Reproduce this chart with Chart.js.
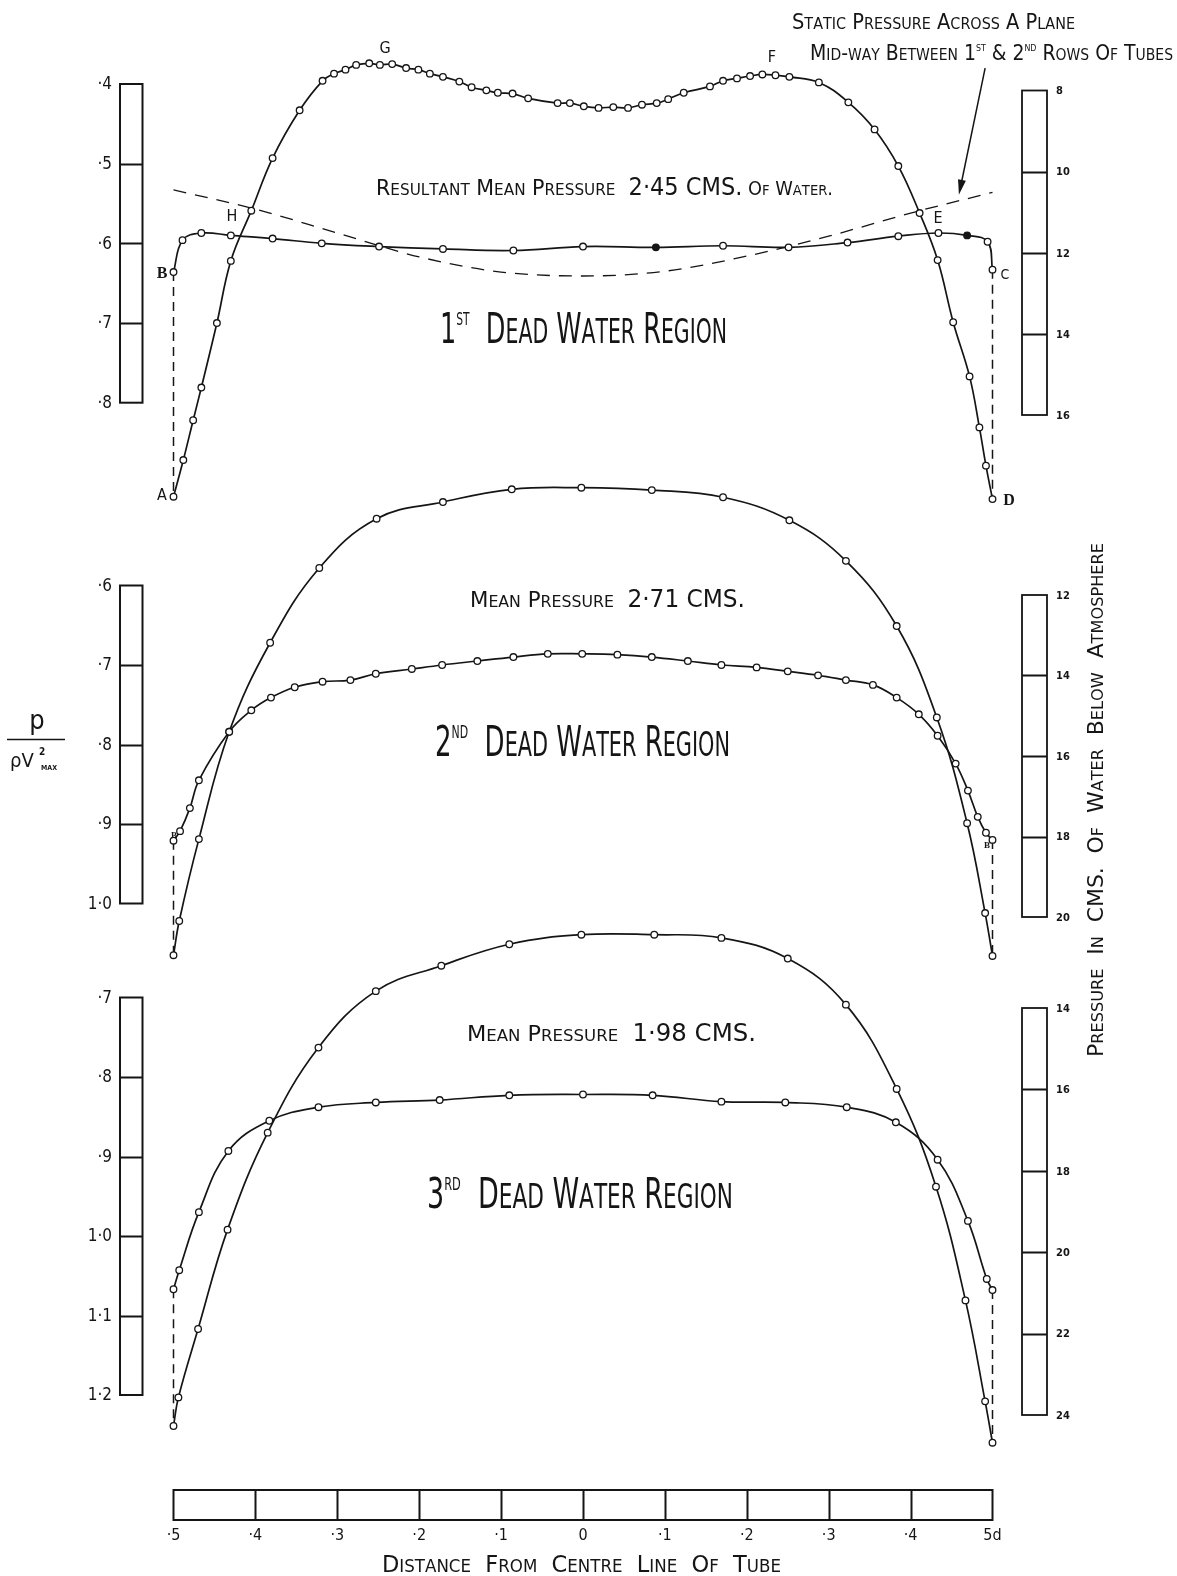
<!DOCTYPE html>
<html>
<head>
<meta charset="utf-8">
<title>Dead Water Regions – Pressure Distribution</title>
<script src="https://cdn.jsdelivr.net/npm/chart.js@4.4.1/dist/chart.umd.min.js"></script>
<style>
  html, body { margin: 0; padding: 0; background: #fff; overflow: hidden; }
  canvas { display: block; }
</style>
</head>
<body>
<canvas id="chart" width="1177" height="1576"></canvas>
<script>
// ---------------------------------------------------------------
// Data: distance from centre line of tube (fraction of d) and
// p / (rho V^2 max) for each traverse.
// ---------------------------------------------------------------

// 1st dead water region – upper traverse (A … G … F … D)
const p1UpperX = [-0.5,-0.488,-0.476,-0.466,-0.447,-0.430,-0.405,-0.379,-0.346,-0.318,-0.304,-0.290,-0.277,-0.261,-0.248,-0.233,-0.216,-0.201,-0.187,-0.171,-0.151,-0.136,-0.118,-0.104,-0.086,-0.067,-0.031,-0.016,0.001,0.019,0.037,0.055,0.072,0.090,0.104,0.123,0.155,0.171,0.188,0.204,0.219,0.235,0.252,0.288,0.324,0.356,0.385,0.411,0.433,0.452,0.472,0.484,0.492,0.5];
const p1UpperY = [0.918,0.872,0.822,0.781,0.700,0.622,0.559,0.493,0.433,0.396,0.387,0.382,0.376,0.374,0.376,0.375,0.380,0.382,0.387,0.391,0.397,0.404,0.408,0.411,0.412,0.418,0.424,0.424,0.428,0.430,0.429,0.430,0.426,0.424,0.419,0.411,0.403,0.396,0.393,0.390,0.388,0.389,0.391,0.398,0.423,0.457,0.503,0.562,0.621,0.699,0.767,0.831,0.879,0.921];

// 1st dead water region – lower traverse (B … H … E … C)
const p1LowerX = [-0.5,-0.489,-0.466,-0.430,-0.379,-0.319,-0.249,-0.171,-0.085,0.000,0.089,0.171,0.251,0.323,0.385,0.434,0.469,0.494,0.5];
const p1LowerY = [0.636,0.596,0.587,0.590,0.594,0.600,0.604,0.607,0.609,0.604,0.605,0.603,0.605,0.599,0.591,0.587,0.590,0.598,0.633];
const p1LowerSolid = [10, 16]; // readings marked with a solid dot

// static pressure across the plane mid-way between 1st & 2nd rows
const p1StaticX = [-0.5,-0.4,-0.3,-0.2,-0.1,0,0.1,0.2,0.3,0.4,0.5];
const p1StaticY = [0.533,0.557,0.587,0.617,0.636,0.641,0.635,0.616,0.591,0.562,0.536];

// 2nd dead water region
const p2UpperX = [-0.5,-0.493,-0.469,-0.432,-0.382,-0.322,-0.252,-0.171,-0.087,-0.002,0.084,0.171,0.252,0.321,0.383,0.432,0.469,0.491,0.5];
const p2UpperY = [1.065,1.022,0.919,0.784,0.672,0.578,0.516,0.495,0.479,0.477,0.480,0.489,0.518,0.569,0.651,0.766,0.899,1.012,1.066];
const p2LowerX = [-0.5,-0.492,-0.480,-0.469,-0.432,-0.405,-0.381,-0.352,-0.318,-0.284,-0.253,-0.209,-0.172,-0.129,-0.085,-0.043,-0.001,0.042,0.084,0.128,0.169,0.212,0.250,0.287,0.321,0.354,0.383,0.410,0.433,0.455,0.470,0.482,0.492,0.5];
const p2LowerY = [0.921,0.909,0.880,0.845,0.784,0.757,0.741,0.728,0.721,0.719,0.711,0.705,0.700,0.695,0.690,0.686,0.686,0.687,0.690,0.695,0.700,0.703,0.708,0.713,0.719,0.725,0.741,0.762,0.789,0.824,0.858,0.891,0.911,0.920];

// 3rd dead water region
const p3UpperX = [-0.5,-0.494,-0.470,-0.434,-0.385,-0.323,-0.253,-0.173,-0.090,-0.002,0.087,0.169,0.250,0.321,0.383,0.431,0.467,0.491,0.5];
const p3UpperY = [1.239,1.203,1.117,0.992,0.870,0.763,0.692,0.660,0.633,0.621,0.621,0.625,0.651,0.709,0.815,0.938,1.081,1.208,1.260];
const p3LowerX = [-0.5,-0.493,-0.469,-0.433,-0.383,-0.323,-0.253,-0.175,-0.090,0,0.085,0.169,0.247,0.322,0.382,0.433,0.470,0.493,0.5];
const p3LowerY = [1.067,1.043,0.970,0.893,0.855,0.838,0.832,0.829,0.823,0.822,0.823,0.831,0.832,0.838,0.857,0.904,0.981,1.054,1.068];

// Scale ticks and their printed labels
const ratioTicks1 = [0.4,0.5,0.6,0.7,0.8];
const ratioLabels1 = ['·4','·5','·6','·7','·8'];
const ratioTicks2 = [0.6,0.7,0.8,0.9,1.0];
const ratioLabels2 = ['·6','·7','·8','·9','1·0'];
const ratioTicks3 = [0.7,0.8,0.9,1.0,1.1,1.2];
const ratioLabels3 = ['·7','·8','·9','1·0','1·1','1·2'];
const cmsTicks1 = [8,10,12,14,16];
const cmsTicks2 = [12,14,16,18,20];
const cmsTicks3 = [14,16,18,20,22,24];
const distTicks = [-0.5,-0.4,-0.3,-0.2,-0.1,0,0.1,0.2,0.3,0.4,0.5];
const distLabels = ['·5','·4','·3','·2','·1','0','·1','·2','·3','·4','5d'];

// ---------------------------------------------------------------
// Page geometry
// ---------------------------------------------------------------
const W = 1177, H = 1576;
const INK = '#151515';
const FONT = '"DejaVu Sans Condensed", "Liberation Sans Narrow", "DejaVu Sans", sans-serif';
const SERIF = '"Liberation Serif", "DejaVu Serif", serif';

// Linear range so that value v0 lands on pixel p0 and v1 on p1
function rangeThrough(v0, p0, v1, p1, size) {
  const k = (p1 - p0) / (v1 - v0);
  const min = v0 - p0 / k;
  return { min, max: min + size / k };
}

function hiddenAxis(axis, position, range, reverse) {
  return {
    type: 'linear', axis, position, display: false, reverse: !!reverse,
    min: range.min, max: range.max, bounds: 'data',
    grid: { display: false }, ticks: { display: false }
  };
}

const scales = {
  x:   hiddenAxis('x', 'bottom', rangeThrough(-0.5, 173.5, 0.5, 992.5, W), false),
  y1:  hiddenAxis('y', 'left',  rangeThrough(0.4, 84, 0.8, 402.7, H), true),
  y2:  hiddenAxis('y', 'left',  rangeThrough(0.6, 585.5, 1.0, 903.5, H), true),
  y3:  hiddenAxis('y', 'left',  rangeThrough(0.7, 997.5, 1.2, 1395, H), true),
  c1:  hiddenAxis('y', 'right', rangeThrough(8, 90.5, 16, 415, H), true),
  c2:  hiddenAxis('y', 'right', rangeThrough(12, 595, 20, 917, H), true),
  c3:  hiddenAxis('y', 'right', rangeThrough(14, 1008, 24, 1415, H), true)
};

// ---------------------------------------------------------------
// Datasets
// ---------------------------------------------------------------
function pts(xs, ys) { return xs.map((x, i) => ({ x, y: ys[i] })); }

function traverse(xs, ys, yAxisID, extra) {
  return Object.assign({
    data: pts(xs, ys), xAxisID: 'x', yAxisID,
    borderColor: INK, borderWidth: 1.7,
    pointRadius: 3.3, pointHoverRadius: 3.3, pointBorderWidth: 1.3,
    pointBackgroundColor: '#fff', pointBorderColor: INK,
    tension: 0.4, fill: false, clip: false
  }, extra || {});
}

// dashed drop joining the end readings of the two traverses at one wall
function wallDrop(ax, ay, bx, by, idxA, idxB, yAxisID) {
  return {
    data: [{ x: ax[idxA], y: ay[idxA] }, { x: bx[idxB], y: by[idxB] }],
    xAxisID: 'x', yAxisID, borderColor: INK, borderWidth: 1.5,
    borderDash: [9, 6], pointRadius: 0, tension: 0, fill: false, clip: false
  };
}

const last = a => a.length - 1;

const datasets = [
  traverse(p1UpperX, p1UpperY, 'y1'),
  traverse(p1LowerX, p1LowerY, 'y1', {
    pointBackgroundColor: p1LowerX.map((_, i) => p1LowerSolid.includes(i) ? INK : '#fff')
  }),
  {
    data: pts(p1StaticX, p1StaticY), xAxisID: 'x', yAxisID: 'y1',
    borderColor: INK, borderWidth: 1.3, borderDash: [13, 9], pointRadius: 0,
    cubicInterpolationMode: 'monotone', fill: false, clip: false
  },
  wallDrop(p1LowerX, p1LowerY, p1UpperX, p1UpperY, 0, 0, 'y1'),
  wallDrop(p1LowerX, p1LowerY, p1UpperX, p1UpperY, last(p1LowerX), last(p1UpperX), 'y1'),

  traverse(p2UpperX, p2UpperY, 'y2'),
  traverse(p2LowerX, p2LowerY, 'y2'),
  wallDrop(p2LowerX, p2LowerY, p2UpperX, p2UpperY, 0, 0, 'y2'),
  wallDrop(p2LowerX, p2LowerY, p2UpperX, p2UpperY, last(p2LowerX), last(p2UpperX), 'y2'),

  traverse(p3UpperX, p3UpperY, 'y3'),
  traverse(p3LowerX, p3LowerY, 'y3'),
  wallDrop(p3LowerX, p3LowerY, p3UpperX, p3UpperY, 0, 0, 'y3'),
  wallDrop(p3LowerX, p3LowerY, p3UpperX, p3UpperY, last(p3LowerX), last(p3UpperX), 'y3')
];

// ---------------------------------------------------------------
// Lettering helpers (small capitals, superscripts, fitted widths)
// ---------------------------------------------------------------
function layoutGlyphs(ctx, segs) {
  const glyphs = [];
  let w = 0;
  for (const s of segs) {
    const ratio = s.scRatio || 0.74;
    for (const ch of s.t) {
      let c = ch, sz = s.size, dy = 0;
      if (s.sup) { sz = s.size * 0.42; dy = -s.size * 0.43; }
      else if (s.sc && ch !== ch.toUpperCase()) { c = ch.toUpperCase(); sz = s.size * ratio; }
      const font = `${s.weight || 400} ${sz}px ${s.family || FONT}`;
      ctx.font = font;
      glyphs.push({ c, font, dy, x: w });
      w += ctx.measureText(c).width + (s.track || 0);
    }
  }
  return { glyphs, width: w };
}

function drawRich(ctx, segs, x, y, o) {
  o = o || {};
  const run = layoutGlyphs(ctx, segs);
  const sx = o.width ? o.width / run.width : 1;
  const total = run.width * sx;
  const start = o.align === 'center' ? -total / 2 : o.align === 'right' ? -total : 0;
  ctx.save();
  ctx.translate(x, y);
  if (o.rotate) ctx.rotate(o.rotate);
  ctx.fillStyle = INK;
  ctx.textAlign = 'left';
  ctx.textBaseline = 'alphabetic';
  for (const g of run.glyphs) {
    ctx.save();
    ctx.translate(start + g.x * sx, g.dy);
    ctx.scale(sx, 1);
    ctx.font = g.font;
    ctx.fillText(g.c, 0, 0);
    ctx.restore();
  }
  ctx.restore();
}

// vertical box scale with divisions at every tick
function verticalBox(ctx, scale, ticks, labels, x0, x1, labelX, labelAlign, font, lw) {
  const top = scale.getPixelForValue(ticks[0]);
  const bot = scale.getPixelForValue(ticks[ticks.length - 1]);
  ctx.save();
  ctx.strokeStyle = INK;
  ctx.lineWidth = lw;
  ctx.strokeRect(x0, top, x1 - x0, bot - top);
  ctx.beginPath();
  for (let i = 1; i < ticks.length - 1; i++) {
    const y = Math.round(scale.getPixelForValue(ticks[i])) + 0.5;
    ctx.moveTo(x0, y); ctx.lineTo(x1, y);
  }
  ctx.stroke();
  ctx.fillStyle = INK;
  ctx.font = font;
  ctx.textAlign = labelAlign;
  ctx.textBaseline = 'middle';
  ticks.forEach((t, i) => ctx.fillText(labels[i], labelX, scale.getPixelForValue(t) + 1));
  ctx.restore();
}

// ---------------------------------------------------------------
// Plugin drawing scales, lettering and the pointer arrow
// ---------------------------------------------------------------
const sheet = {
  id: 'sheet',
  beforeDraw(chart) {
    const c = chart.ctx;
    c.save(); c.fillStyle = '#fff'; c.fillRect(0, 0, chart.width, chart.height); c.restore();
  },
  afterDatasetsDraw(chart) {
    const ctx = chart.ctx, s = chart.scales;

    // p / rho V^2 scales on the left
    const lf = `400 17px ${FONT}`;
    verticalBox(ctx, s.y1, ratioTicks1, ratioLabels1, 120, 142.5, 112, 'right', lf, 2);
    verticalBox(ctx, s.y2, ratioTicks2, ratioLabels2, 120, 142.5, 112, 'right', lf, 2);
    verticalBox(ctx, s.y3, ratioTicks3, ratioLabels3, 120, 142.5, 112, 'right', lf, 2);

    // centimetres of water scales on the right
    const rf = `700 11px ${FONT}`;
    const str = v => v.map(String);
    verticalBox(ctx, s.c1, cmsTicks1, str(cmsTicks1), 1022, 1047, 1056, 'left', rf, 1.8);
    verticalBox(ctx, s.c2, cmsTicks2, str(cmsTicks2), 1022, 1047, 1056, 'left', rf, 1.8);
    verticalBox(ctx, s.c3, cmsTicks3, str(cmsTicks3), 1022, 1047, 1056, 'left', rf, 1.8);

    // distance scale along the bottom
    const bx0 = s.x.getPixelForValue(distTicks[0]);
    const bx1 = s.x.getPixelForValue(distTicks[distTicks.length - 1]);
    ctx.save();
    ctx.strokeStyle = INK; ctx.lineWidth = 2;
    ctx.strokeRect(bx0, 1490, bx1 - bx0, 30);
    ctx.beginPath();
    for (let i = 1; i < distTicks.length - 1; i++) {
      const x = Math.round(s.x.getPixelForValue(distTicks[i])) + 0.5;
      ctx.moveTo(x, 1490); ctx.lineTo(x, 1520);
    }
    ctx.stroke();
    ctx.fillStyle = INK; ctx.font = `400 16px ${FONT}`;
    ctx.textAlign = 'center'; ctx.textBaseline = 'middle';
    distTicks.forEach((t, i) => ctx.fillText(distLabels[i], s.x.getPixelForValue(t), 1536));
    ctx.restore();

    // headings and captions
    drawRich(ctx, [{ t: 'Static Pressure Across A Plane', size: 22, sc: true }], 792, 29, { width: 283 });
    drawRich(ctx, [
      { t: 'Mid-way Between 1', size: 22, sc: true },
      { t: 'ST', size: 22, sup: true },
      { t: ' & 2', size: 22, sc: true },
      { t: 'ND', size: 22, sup: true },
      { t: ' Rows Of Tubes', size: 22, sc: true }
    ], 810, 60, { width: 363 });

    drawRich(ctx, [
      { t: 'Resultant Mean Pressure  ', size: 22, sc: true },
      { t: '2·45 CMS.', size: 24 },
      { t: ' Of Water.', size: 19, sc: true }
    ], 376, 195, { width: 457 });

    const region = (n, sup, x, y, w) => drawRich(ctx, [
      { t: n, size: 42 }, { t: sup, size: 42, sup: true },
      { t: '  Dead Water Region', size: 42, sc: true, scRatio: 0.8 }
    ], x, y, { width: w });
    region('1', 'ST', 440, 343, 287);
    region('2', 'ND', 435, 756, 295);
    region('3', 'RD', 427, 1208, 306);

    drawRich(ctx, [{ t: 'Mean Pressure  ', size: 22, sc: true }, { t: '2·71 CMS.', size: 24 }], 470, 607, { width: 275 });
    drawRich(ctx, [{ t: 'Mean Pressure  ', size: 22, sc: true }, { t: '1·98 CMS.', size: 24 }], 467, 1041, { width: 289 });

    drawRich(ctx, [{ t: 'Distance  From  Centre  Line  Of  Tube', size: 23, sc: true }], 382, 1572, { width: 399 });

    drawRich(ctx, [{ t: 'Pressure  In  CMS.  Of  Water  Below  Atmosphere', size: 21, sc: true }],
      1103, 800, { width: 514, align: 'center', rotate: -Math.PI / 2 });

    // p / rho V^2 max
    ctx.save();
    ctx.fillStyle = INK; ctx.strokeStyle = INK;
    ctx.font = `400 27px ${FONT}`; ctx.textAlign = 'center'; ctx.textBaseline = 'alphabetic';
    ctx.fillText('p', 37, 729);
    ctx.lineWidth = 1.6;
    ctx.beginPath(); ctx.moveTo(7, 739.5); ctx.lineTo(65, 739.5); ctx.stroke();
    ctx.textAlign = 'left';
    ctx.font = `400 20px ${FONT}`; ctx.fillText('ρV', 10, 767);
    ctx.font = `700 10px ${FONT}`; ctx.fillText('2', 39, 755);
    ctx.font = `700 7px ${FONT}`; ctx.fillText('MAX', 41, 770);
    ctx.restore();

    // point letters
    const letter = (t, x, y, fam, size, weight) => {
      ctx.save();
      ctx.fillStyle = INK; ctx.font = `${weight || 400} ${size || 16}px ${fam || FONT}`;
      ctx.textAlign = 'center'; ctx.textBaseline = 'middle';
      ctx.fillText(t, x, y);
      ctx.restore();
    };
    letter('G', 385, 49);
    letter('F', 772, 58);
    letter('H', 232, 217);
    letter('E', 938, 219);
    letter('B', 162, 274, SERIF, 16, 700);
    letter('C', 1005, 275, FONT, 14);
    letter('A', 162, 496);
    letter('D', 1009, 501, SERIF, 16, 700);
    letter('B', 174, 836, SERIF, 9, 700);
    letter('B', 987, 846, SERIF, 9, 700);

    // arrow from the heading to the static pressure curve
    const tx = s.x.getPixelForValue(0.459), ty = s.y1.getPixelForValue(0.539);
    const fx = s.x.getPixelForValue(0.491), fy = s.y1.getPixelForValue(0.380);
    const ang = Math.atan2(ty - fy, tx - fx);
    ctx.save();
    ctx.strokeStyle = INK; ctx.fillStyle = INK; ctx.lineWidth = 1.5;
    ctx.beginPath(); ctx.moveTo(fx, fy);
    ctx.lineTo(tx - 12 * Math.cos(ang), ty - 12 * Math.sin(ang)); ctx.stroke();
    ctx.beginPath();
    ctx.moveTo(tx, ty);
    ctx.lineTo(tx - 15 * Math.cos(ang) + 4 * Math.sin(ang), ty - 15 * Math.sin(ang) - 4 * Math.cos(ang));
    ctx.lineTo(tx - 15 * Math.cos(ang) - 4 * Math.sin(ang), ty - 15 * Math.sin(ang) + 4 * Math.cos(ang));
    ctx.closePath(); ctx.fill();
    ctx.restore();
  }
};

new Chart(document.getElementById('chart'), {
  type: 'line',
  data: { datasets },
  options: {
    responsive: false,
    animation: false,
    devicePixelRatio: 1,
    events: [],
    layout: { padding: 0, autoPadding: false },
    plugins: { legend: { display: false }, tooltip: { enabled: false }, title: { display: false } },
    scales
  },
  plugins: [sheet]
});
</script>
</body>
</html>
